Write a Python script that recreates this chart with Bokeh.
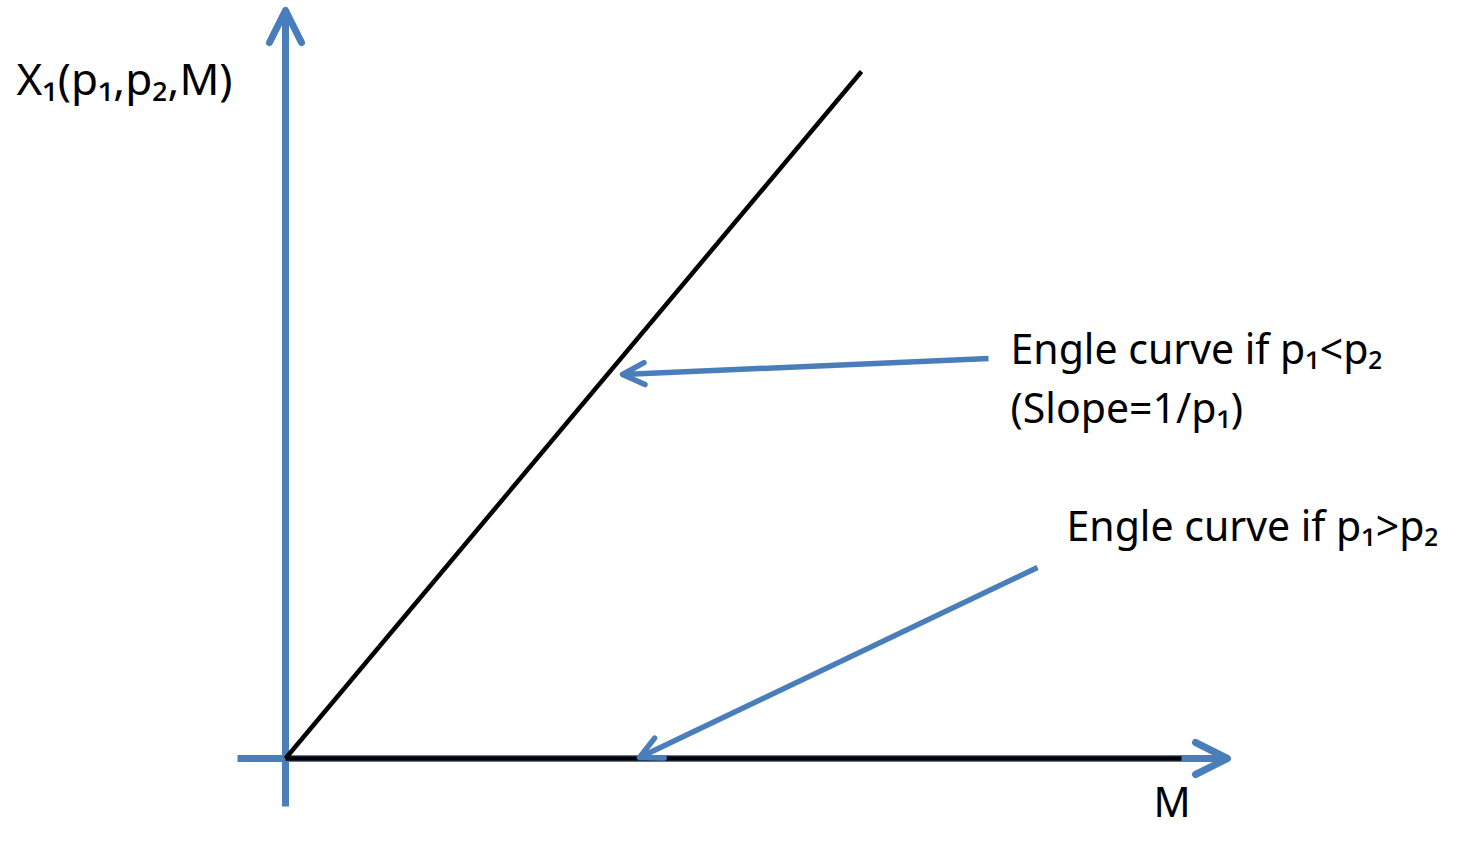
from bokeh.plotting import figure
from bokeh.models import Range1d, Arrow, OpenHead, ColumnDataSource
from bokeh.core.properties import value
from bokeh.embed import file_html
from bokeh.resources import INLINE

# --- diagram data (image-pixel coordinate system, y grows downward) ---
y_axis_x = [285, 285]
y_axis_y = [806, 10]
x_axis_x = [237, 1227]
x_axis_y = [758, 758]
engel_steep_x = [285, 861]
engel_steep_y = [758, 71]
engel_flat_x = [285, 1181]
engel_flat_y = [758, 758]
pointer_start_x = [988, 1037]
pointer_start_y = [358, 567]
pointer_end_x = [622, 639]
pointer_end_y = [374, 757]

labels = ["X\u2081(p\u2081,p\u2082,M)", "Engle curve if p\u2081<p\u2082", "(Slope=1/p\u2081)",
          "Engle curve if p\u2081>p\u2082", "M"]
label_x = [16, 1010, 1010, 1066, 1153]
label_y = [77, 347, 406, 524, 800]
label_size = ["44px", "41px", "41px", "41px", "41px"]

BLUE = "#4A7EBB"
FONT = "Noto Sans"

p = figure(width=1442, height=832, output_backend="svg", toolbar_location=None,
           x_range=Range1d(0, 1442), y_range=Range1d(832, 0), min_border=0)
p.axis.visible = False
p.grid.visible = False
p.outline_line_color = None
p.background_fill_color = "white"

# axes (blue)
p.line(y_axis_x, y_axis_y, line_color=BLUE, line_width=7)
p.line(x_axis_x, x_axis_y, line_color=BLUE, line_width=7)
axis_head = dict(size=32, line_color=BLUE, line_width=7, line_cap="round", line_join="round")
p.add_layout(Arrow(end=OpenHead(**axis_head), x_start=y_axis_x[0], y_start=y_axis_y[0],
                   x_end=y_axis_x[1], y_end=y_axis_y[1], line_color=BLUE, line_width=0, line_alpha=0))
p.add_layout(Arrow(end=OpenHead(**axis_head), x_start=x_axis_x[0], y_start=x_axis_y[0],
                   x_end=x_axis_x[1], y_end=x_axis_y[1], line_color=BLUE, line_width=0, line_alpha=0))

# Engel curves (black)
p.line(engel_steep_x, engel_steep_y, line_color="black", line_width=4.5)
p.line(engel_flat_x, engel_flat_y, line_color="black", line_width=4.5)

# pointer arrows
src = ColumnDataSource(dict(xs=pointer_start_x, ys=pointer_start_y, xe=pointer_end_x, ye=pointer_end_y))
p.add_layout(Arrow(end=OpenHead(size=22, line_color=BLUE, line_width=5.5, line_cap="round", line_join="round"),
                   x_start="xs", y_start="ys", x_end="xe", y_end="ye", source=src,
                   line_color=BLUE, line_width=5.5))

# labels
tsrc = ColumnDataSource(dict(x=label_x, y=label_y, text=labels, size=label_size))
p.text(x="x", y="y", text="text", text_font_size="size", source=tsrc, text_font=value(FONT),
       text_color="black", text_align="left", text_baseline="alphabetic")

open("out.html", "w").write(file_html(p, INLINE))
